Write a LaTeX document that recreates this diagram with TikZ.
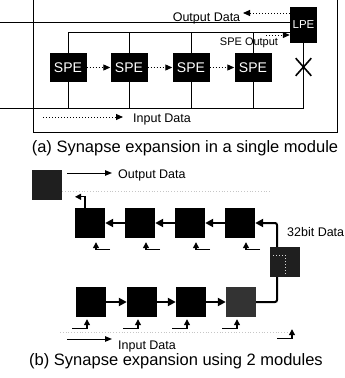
\documentclass[tikz,border=0pt]{standalone}
\usepackage{fontspec}
\setsansfont{Liberation Sans}
\usetikzlibrary{arrows.meta,calc,shapes.misc}

\begin{document}
\begin{tikzpicture}[x=1pt, y=-1pt,
    pe/.style={fill=black, text=white, minimum width=37pt, minimum height=29pt, inner sep=0pt, font=\sffamily\fontsize{14}{16}\selectfont},
    lpe/.style={fill=black, text=white, minimum width=27pt, minimum height=36pt, inner sep=0pt, font=\sffamily\fontsize{11.5}{13}\selectfont},
    blk/.style={fill=black, minimum size=30pt, inner sep=0pt},
    lbl/.style={font=\sffamily\fontsize{12.5}{14}\selectfont, inner sep=0pt},
    captxt/.style={font=\sffamily\fontsize{16.5}{18}\selectfont, inner sep=0pt},
    bus/.style={line width=0.8pt},
    darr/.style={dotted, line width=1pt, -{Triangle[length=7pt,width=6pt]}},
    sarr/.style={line width=2pt, -{Triangle[length=8pt,width=8pt]}},
    tarr/.style={line width=1.1pt, -{Triangle[length=6pt,width=6pt]}},
    larr/.style={line width=1pt, -{Triangle[length=7pt,width=5.5pt]}},
    faint/.style={gray!45, dotted, line width=0.8pt}
  ]
    \useasboundingbox (0,0) rectangle (345,378);

    % (a) single module
    \draw[line width=1pt] (33,-5) rectangle (337,132);
    \node[pe] (spe1) at (68,67.5) {SPE};
    \node[pe] (spe2) at (129,67.5) {SPE};
    \node[pe] (spe3) at (191,67.5) {SPE};
    \node[pe] (spe4) at (253,67.5) {SPE};
    \node[lpe] (lpe) at (303.5,25) {LPE};

    \coordinate (obus) at (0,22);
    \coordinate (sbus) at (68,32);
    \coordinate (ibus) at (0,108);
    \draw[bus] (obus) -- (obus -| lpe.west);
    \draw[bus] (spe1.north) -- (sbus) -- (sbus -| lpe.west);
    \draw[bus] (ibus) -- (ibus -| lpe.south) -- (lpe.south);
    \foreach \i in {1,...,4} {
      \draw[bus] (spe\i.south) -- (spe\i.south |- ibus);
    }
    \foreach \i in {2,3,4} {
      \draw[bus] (spe\i.north) -- (spe\i.north |- sbus);
    }
    \foreach \i/\j in {1/2,2/3,3/4} {
      \draw[darr] (spe\i.east) -- (spe\j.west);
    }
    \node[cross out, draw, line width=1.6pt, minimum width=14pt, minimum height=16pt, inner sep=0pt] (cut) at (lpe.south |- 0,67) {};

    \node[lbl, anchor=base] (odat) at (206.5,21.5) {Output Data};
    \coordinate (otip) at (243,13);
    \draw[darr] (otip -| lpe.west) -- (otip);
    \node[lbl, font=\sffamily\fontsize{11}{13}\selectfont] (sout) at (249,43) {SPE Output};
    \coordinate (sotail) at (266,35);
    \draw[darr] (sotail) -- (sotail -| lpe.west);
    \node[lbl, anchor=west] (idat) at (133,119) {Input Data};
    \coordinate (itail) at (43,117);
    \draw[darr] (itail) -- ([xshift=-10pt]itail -| idat.west);

    \node[captxt] (capa) at (185,148) {(a) Synapse expansion in a single module};

    % (b) two modules
    \node[blk, fill=black!88] (key) at (47,185) {};
    \node[lbl, anchor=west] (odat2) at (118,175) {Output Data};
    \coordinate (okey) at (67,173);
    \draw[larr] (okey) -- ([xshift=-6pt]okey -| odat2.west);

    \draw[faint] (62,191) -- (270,191);
    \draw[faint] (60,332) -- (295,332);

    \foreach \n/\x in {1/90,2/140,3/190,4/240} {
      \node[blk] (t\n) at (\x,223) {};
    }
    \foreach \n/\x in {1/91,2/142,3/191} {
      \node[blk] (b\n) at (\x,302) {};
    }
    \node[blk, fill=black!80] (b4) at (241,302) {};
    \node[blk, fill=black!88] (lpe2) at (285,262) {};
    \draw[white!85!black, dotted, line width=1pt] ($(lpe2.center)+(-12,-7)$) -- ($(lpe2.center)+(0,-7)$) -- ($(lpe2.center)+(0,13)$);

    \foreach \i/\j in {4/3,3/2,2/1} {
      \draw[sarr] (t\i.west) -- (t\j.east);
    }
    \foreach \i/\j in {1/2,2/3,3/4} {
      \draw[sarr] (b\i.east) -- (b\j.west);
    }
    \draw[sarr, rounded corners=2pt] ([xshift=-8pt]lpe2.north) |- (t4.east);
    \draw[line width=2pt, rounded corners=2pt] (b4.east) -| ([xshift=-8pt]lpe2.south);
    \node[lbl, anchor=west] (wide) at (287,232) {32bit Data};

    \draw[tarr] ($(t1.north)+(-5,0)$) |- ($(t1.north)+(-15,-11)$);
    \foreach \n in {1,...,4} {
      \draw[tarr] ($(t\n.south)+(20,11)$) -| ($(t\n.south)+(6,4)$);
      \draw[tarr] ($(b\n.south)+(-19,11)$) -| ($(b\n.south)+(-4,2)$);
    }
    \draw[tarr] ($(lpe2.south)+(-8,61)$) -| ($(lpe2.south)+(7,52)$);

    \node[lbl, anchor=west] (idat2) at (118,346) {Input Data};
    \coordinate (ikey) at (67,339);
    \draw[larr] (ikey) -- ([xshift=-6pt]ikey -| idat2.west);

    \node[captxt] (capb) at (176,361) {(b) Synapse expansion using 2 modules};
  \end{tikzpicture}
\end{document}
